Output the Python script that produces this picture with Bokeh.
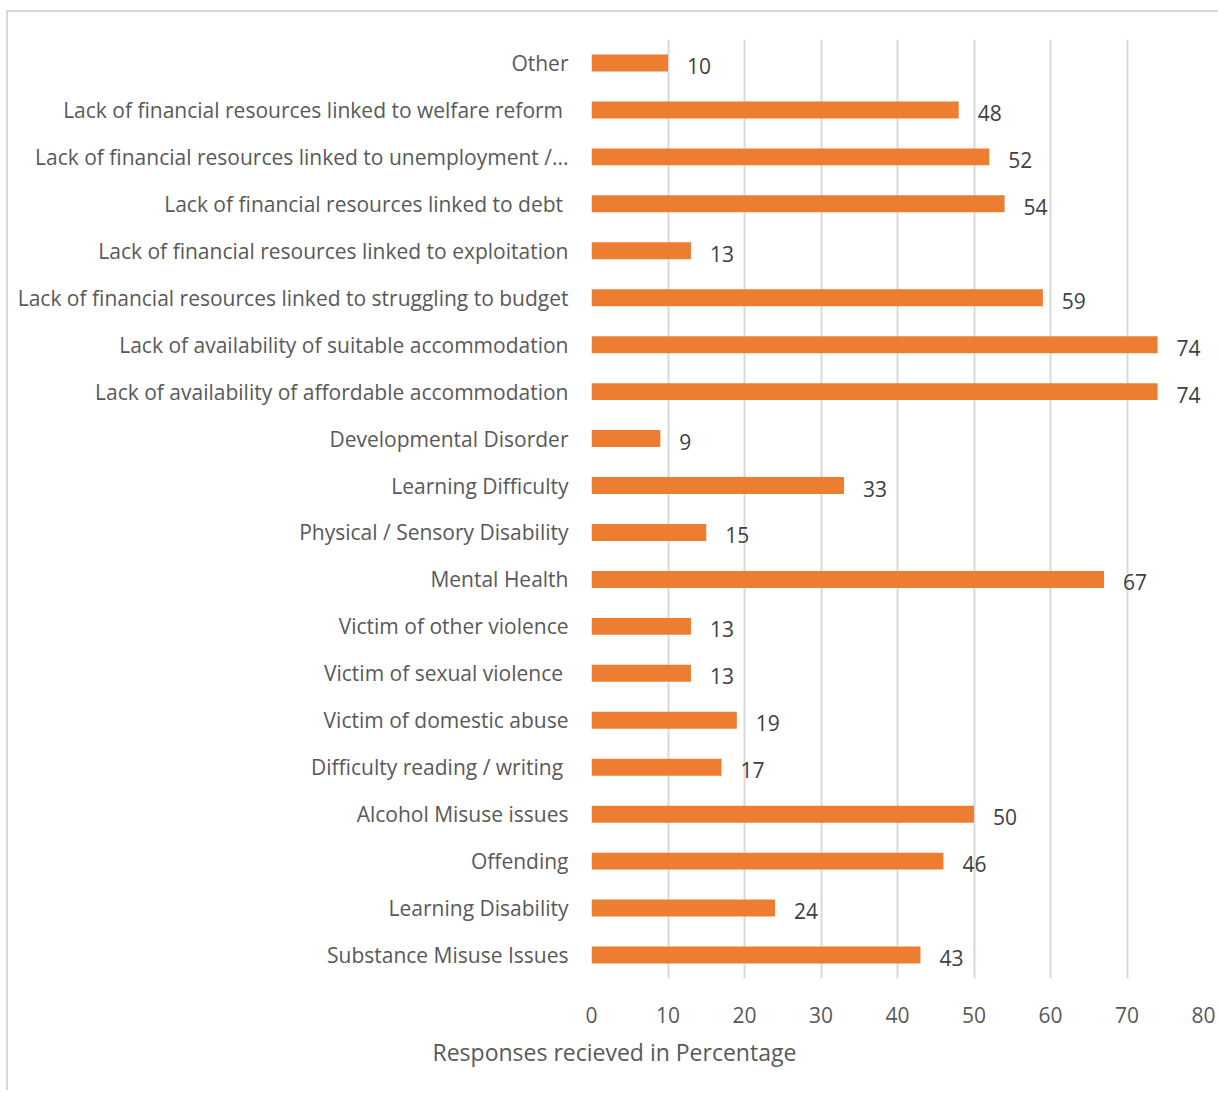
from bokeh.plotting import figure
from bokeh.models import ColumnDataSource, FactorRange, Range1d, FixedTicker, Title
from bokeh.core.properties import value
from bokeh.embed import file_html
from bokeh.resources import INLINE

categories = [
    "Substance Misuse Issues",
    "Learning Disability",
    "Offending",
    "Alcohol Misuse issues",
    "Difficulty reading / writing ",
    "Victim of domestic abuse",
    "Victim of sexual violence ",
    "Victim of other violence",
    "Mental Health",
    "Physical / Sensory Disability",
    "Learning Difficulty",
    "Developmental Disorder",
    "Lack of availability of affordable accommodation",
    "Lack of availability of suitable accommodation",
    "Lack of financial resources linked to struggling to budget",
    "Lack of financial resources linked to exploitation",
    "Lack of financial resources linked to debt ",
    "Lack of financial resources linked to unemployment /...",
    "Lack of financial resources linked to welfare reform ",
    "Other",
]
values = [43, 24, 46, 50, 17, 19, 13, 13, 67, 15, 33, 9, 74, 74, 59, 13, 54, 52, 48, 10]
x_ticks = [0, 10, 20, 30, 40, 50, 60, 70, 80]
x_title = "Responses recieved in Percentage"

FONT = "Open Sans"
TEXT = "#595959"

src = ColumnDataSource(dict(cat=categories, val=values, lab=[str(v) for v in values]))

p = figure(
    frame_width=612, frame_height=939,
    y_range=FactorRange(factors=categories, range_padding=0),
    x_range=Range1d(0, 80),
    output_backend="svg", toolbar_location=None,
    min_border_left=583, min_border_right=15, min_border_top=27, min_border_bottom=112,
)
p.margin = (10, 0, 0, 6)
p.styles = {"border-left": "2px solid #d9d9d9", "border-top": "2px solid #d9d9d9"}

p.hbar(y="cat", right="val", left=0, height=0.36, source=src, color="#ED7D31", line_color=None)
p.text(x="val", y="cat", text="lab", source=src, x_offset=19, y_offset=3,
       text_baseline="middle", text_align="left",
       text_font=value(FONT), text_font_size="21px", text_color="#404040")

p.outline_line_color = None
p.ygrid.grid_line_color = None
p.xgrid.grid_line_color = "#d9d9d9"
p.xgrid.grid_line_width = 2
p.xaxis.ticker = FixedTicker(ticks=x_ticks)

p.xaxis.axis_line_color = None
p.xaxis.major_tick_line_color = None
p.xaxis.minor_tick_line_color = None
p.xaxis.major_label_standoff = 22
p.xaxis.major_label_text_font = FONT
p.xaxis.major_label_text_font_size = "21px"
p.xaxis.major_label_text_color = TEXT

p.add_layout(Title(text=x_title, align="left", offset=-159, standoff=16,
                   text_font=FONT, text_font_size="23px", text_font_style="normal",
                   text_color=TEXT), "below")

p.yaxis.axis_line_color = None
p.yaxis.major_tick_line_color = None
p.yaxis.minor_tick_line_color = None
p.yaxis.major_label_standoff = 17
p.yaxis.major_label_text_font = FONT
p.yaxis.major_label_text_font_size = "21px"
p.yaxis.major_label_text_color = TEXT

open("out.html", "w").write(file_html(p, INLINE))
